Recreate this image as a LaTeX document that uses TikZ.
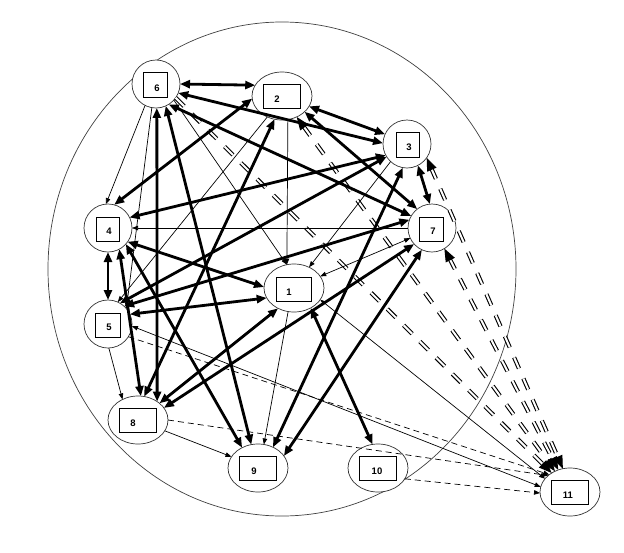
\documentclass[tikz,border=0pt]{standalone}
\usepackage{fontspec}
\setmainfont{Liberation Sans}
\usetikzlibrary{arrows.meta,shapes.geometric}
\begin{document}
\begin{tikzpicture}[x=1pt,y=-1pt,
  every node/.style={inner sep=0pt, outer sep=0pt},
  nd/.style={ellipse, draw=black!80, line width=0.7pt, fill=white, minimum width=#1, minimum height=48pt},
  nd/.default=48pt,
  bx/.style={rectangle, draw=black, line width=0.8pt, fill=white, minimum width=#1, minimum height=24pt},
  lb/.style={font=\bfseries\fontsize{9.5}{10}\selectfont},
  thk/.style={line width=2.8pt, {Triangle[length=10pt,width=8pt]}-{Triangle[length=10pt,width=8pt]}},
  thn/.style={line width=0.7pt, -{Triangle[length=6pt,width=4.5pt]}},
  thnb/.style={line width=0.7pt, {Triangle[length=6pt,width=4.5pt]}-{Triangle[length=6pt,width=4.5pt]}},
  dsh/.style={thn, dash pattern=on 6pt off 4pt},
  dbl/.style={double, double distance=2pt, line width=1.1pt, dash pattern=on 12pt off 11pt, shorten >=11pt},
  dblb/.style={dbl, shorten <=11pt},
  dtip/.style={line width=1pt, dash pattern=on 0pt off 5000pt, -{Triangle[length=13pt,width=10pt]}},
  dtipb/.style={line width=1pt, dash pattern=on 0pt off 5000pt, {Triangle[length=13pt,width=10pt]}-{Triangle[length=13pt,width=10pt]}},
]
\useasboundingbox (0,0) rectangle (624,552);
\node[ellipse, draw=black!75, line width=0.7pt, minimum width=468pt, minimum height=494pt] (big) at (282,269) {};

\node[nd] (n6) at (156,84) {};
\node[nd=60pt] (n2) at (282,96) {};
\node[nd] (n3) at (407,144) {};
\node[nd] (n7) at (432,228) {};
\node[nd] (n4) at (108,228) {};
\node[nd=60pt] (n1) at (294,288) {};
\node[nd] (n5) at (108,324) {};
\node[nd=60pt] (n8) at (138,420) {};
\node[nd=60pt] (n9) at (258,468) {};
\node[nd=60pt] (n10) at (378,468) {};
\node[nd=60pt] (n11) at (570,492) {};

\node[bx=24pt, minimum height=25pt] (b6) at (155,84.5) {};
\node[bx=37pt] (b2) at (281.5,96) {};
\node[bx=23pt, minimum height=25pt] (b3) at (407.5,144.5) {};
\node[bx=24pt] (b7) at (431,229) {};
\node[bx=23pt] (b4) at (107.5,229) {};
\node[bx=35pt] (b1) at (293.5,289) {};
\node[bx=25pt] (b5) at (107.5,325) {};
\node[bx=37pt] (b8) at (137.5,420) {};
\node[bx=37pt] (b9) at (257.5,468) {};
\node[bx=37pt] (b10) at (377.5,468) {};
\node[bx=37pt] (b11) at (569.5,492) {};

\node[lb] (l6) at (157,88) {6};
\node[lb] (l2) at (277,99) {2};
\node[lb] (l3) at (409,147) {3};
\node[lb] (l7) at (433,231) {7};
\node[lb] (l4) at (109,231) {4};
\node[lb] (l1) at (289,292) {1};
\node[lb] (l5) at (109,327) {5};
\node[lb] (l8) at (133,423) {8};
\node[lb] (l9) at (254,471) {9};
\node[lb] (l10) at (377,471) {10};
\node[lb] (l11) at (568,495) {11};

% double dashed
\draw[dbl] (n6.-35) -- (n11.134);
\draw[dtip] (n6.-35) -- (n11.134);
\draw[dblb] (n2.-55) -- (n11.126);
\draw[dtipb] (n2.-55) -- (n11.126);
\draw[dblb] (n7.-59) -- (n11.118);
\draw[dtipb] (n7.-59) -- (n11.118);
\draw[dblb] (n3.-35) -- (n11.107);
\draw[dtipb] (n3.-35) -- (n11.107);

% thin dashed
\draw[dsh] (n5.-32) -- (n11.140);
\draw[dsh] (n8.0) -- (n11.143);
\draw[dsh] (n10.-22) -- (n11.182);

% thin
\draw[thn] (n6.-117) -- (n4.95);
\draw[thn] (n6.-100) -- (n5.40);
\draw[thn] (n6.-42) -- (n1.107);
\draw[thn] (n2.-76) -- (n1.107);
\draw[thn] (n7.180) -- (n4.0);
\draw[thn] (n3.-133) -- (n1.54);
\draw[thn] (n2.-125) -- (n5.66);
\draw[thn] (n5.-88) -- (n8.127);
\draw[thn] (n8.-22) -- (n9.157);
\draw[thn] (n1.-104) -- (n9.76);
\draw[thnb] (n1.24) -- (n7.205);
\draw[thnb] (n1.-24) -- (n11.152);
\draw[thnb] (n5.-5) -- (n11.170);

% thick
\draw[thk] (n6.0) -- (n2.158);
\draw[thk] (n6.-22) -- (n3.178);
\draw[thk] (n6.-58) -- (n7.150);
\draw[thk] (n2.-21) -- (n3.156);
\draw[thk] (n2.-35) -- (n7.128);
\draw[thk] (n3.-63) -- (n7.95);
\draw[thk] (n2.-175) -- (n4.75);
\draw[thk] (n3.-152) -- (n4.26);
\draw[thk] (n3.-148) -- (n5.60);
\draw[thk] (n5.48) -- (n7.160);
\draw[thk] (n1.200) -- (n5.24);
\draw[thk] (n4.-35) -- (n1.178);
\draw[thk] (n4.-90) -- (n5.90);
\draw[thk] (n4.-62) -- (n8.83);
\draw[thk] (n4.-42) -- (n9.128);
\draw[thk] (n6.-66) -- (n9.106);
\draw[thk] (n6.-88) -- (n8.44);
\draw[thk] (n2.-108) -- (n8.75);
\draw[thk] (n1.-128) -- (n8.38);
\draw[thk] (n7.222) -- (n8.25);
\draw[thk] (n3.-100) -- (n9.54);
\draw[thk] (n7.-115) -- (n9.25);
\draw[thk] (n1.-50) -- (n10.103);
\end{tikzpicture}
\end{document}
